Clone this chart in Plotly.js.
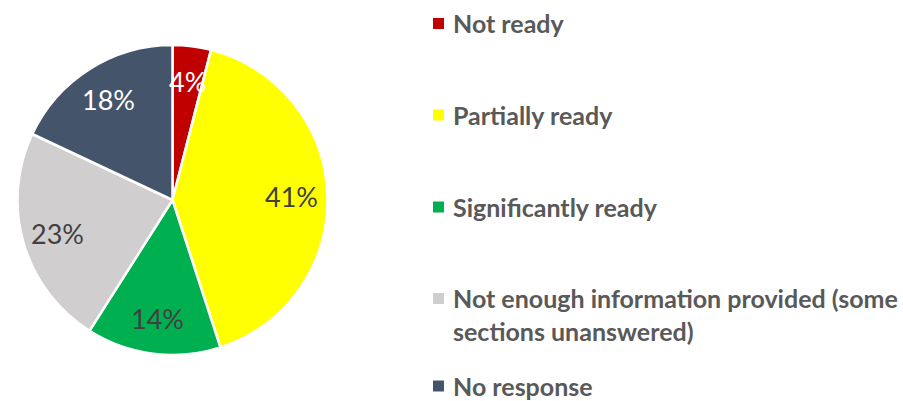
<!DOCTYPE html>
<html><head><meta charset="utf-8">
<script src="https://cdn.plot.ly/plotly-3.0.1.min.js"></script>
<style>html,body{margin:0;padding:0;background:#fff;overflow:hidden}</style>
</head><body><div id="chart" style="width:903px;height:401px"></div>
<script>
// ---- data ----
const categories = ["Not ready", "Partially ready", "Significantly ready",
  "Not enough information provided (some sections unanswered)", "No response"];
const shares = [4, 41, 14, 23, 18];
const legendLabels = ["Not ready", "Partially ready", "Significantly ready",
  "Not enough information provided (some<br>sections unanswered)", "No response"];

// ---- styles ----
const sliceColors = ["#C00000", "#FFFF00", "#00B050", "#D0CECE", "#44546A"];
const labelColors = ["#FFFFFF", "#404040", "#404040", "#404040", "#FFFFFF"];

const W = 903, H = 401;
const pieBox = {x0: 17, x1: 328, y0: 45, y1: 355};
const dom = {x: [pieBox.x0 / W, pieBox.x1 / W], y: [1 - pieBox.y1 / H, 1 - pieBox.y0 / H]};
const cx = (pieBox.x0 + pieBox.x1) / 2, cy = (pieBox.y0 + pieBox.y1) / 2;
const R = Math.min(pieBox.x1 - pieBox.x0, pieBox.y1 - pieBox.y0) / 2;
const labelFrac = 0.77;

const total = shares.reduce((a, b) => a + b, 0);
const annotations = [];
let cum = 0;
shares.forEach((v, i) => {
  const mid = (cum + v / 2) / total * 2 * Math.PI;
  cum += v;
  const px = cx + labelFrac * R * Math.sin(mid);
  const py = cy - labelFrac * R * Math.cos(mid);
  annotations.push({
    xref: 'paper', yref: 'paper', x: px / W, y: 1 - py / H,
    xanchor: 'center', yanchor: 'middle', showarrow: false, borderpad: 0,
    text: Math.round(v / total * 100) + '%',
    font: {family: 'Lato, sans-serif', size: 27, color: labelColors[i]}
  });
});

// legend (drawn as annotations + squares)
const legFont = 25, legLine = legFont * 1.3;
const legRowY = [23.5, 115, 207, 298.5, 386];
const shapes = [];
legendLabels.forEach((t, i) => {
  const lines = t.split('<br>').length;
  const yc = legRowY[i] + (lines - 1) * legLine / 2;
  annotations.push({
    xref: 'paper', yref: 'paper', x: 452 / W, y: 1 - yc / H,
    xanchor: 'left', yanchor: 'middle', align: 'left', showarrow: false, borderpad: 0,
    text: '<b>' + t + '</b>',
    font: {family: 'Lato, sans-serif', size: legFont, color: '#595959'}
  });
  shapes.push({
    type: 'rect', xref: 'paper', yref: 'paper',
    x0: 433 / W, x1: 444 / W, y0: 1 - (legRowY[i] + 5.5) / H, y1: 1 - (legRowY[i] - 5.5) / H,
    fillcolor: sliceColors[i], line: {width: 0}
  });
});

const trace = {
  type: 'pie', labels: categories, values: shares, sort: false,
  direction: 'clockwise', rotation: 0, domain: dom,
  marker: {colors: sliceColors, line: {color: '#FFFFFF', width: 2.5}},
  textinfo: 'none', hoverinfo: 'label+percent', showlegend: false
};

Plotly.newPlot('chart', [trace], {
  width: W, height: H, margin: {l: 0, r: 0, t: 0, b: 0},
  paper_bgcolor: '#FFFFFF', showlegend: false,
  annotations: annotations, shapes: shapes
}, {displayModeBar: false, staticPlot: true});
</script></body></html>
